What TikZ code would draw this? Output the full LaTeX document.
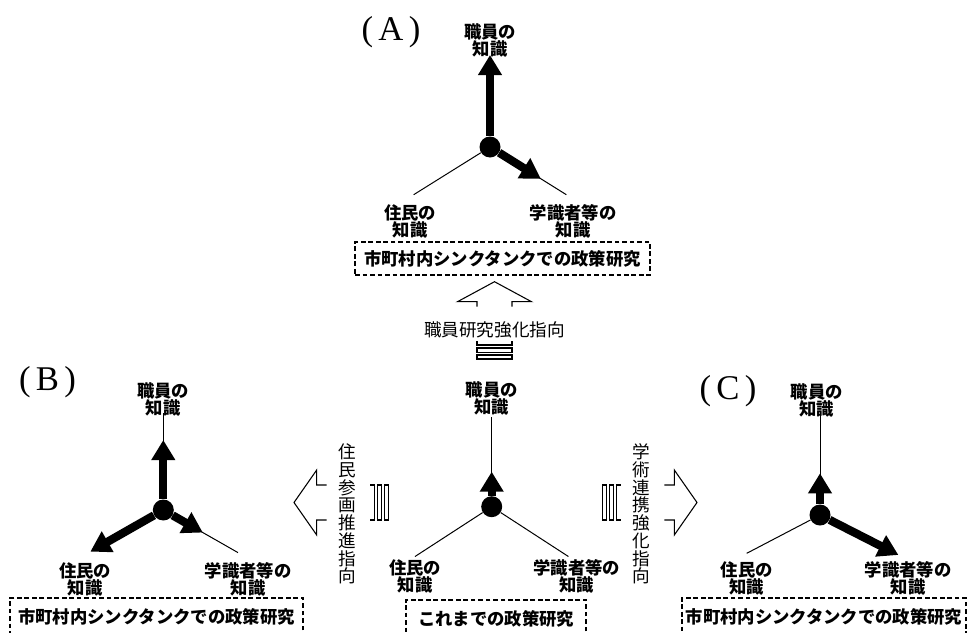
\documentclass[tikz,border=0pt]{standalone}
\usepackage{fontspec}
\setmainfont{Liberation Serif}
\newfontfamily\jpfont{Noto Sans CJK JP}
\usetikzlibrary{arrows.meta}

% striped block arrow: tail, angle, gap end, head base, tip, head half width
\newcommand{\stripearrow}[6]{%
  \begin{scope}[shift={#1}, rotate=#2]
    \draw[outline] (0,-17.5) rectangle (4,17.5) (6.5,-17.5) rectangle (11,17.5);
    \draw[outline] (18,-17.5) -- (14,-17.5) -- (14,17.5) -- (18,17.5);
    \draw[outline] (#3,-17.5) -- (#4,-17.5) -- (#4,-#6) -- (#5,0) -- (#4,#6) -- (#4,17.5) -- (#3,17.5);
  \end{scope}}

\begin{document}
\begin{tikzpicture}[x=0.75pt, y=-0.75pt,
    dot/.style={circle, fill=black, inner sep=0pt, minimum size=15.75pt},
    spoke/.style={line width=0.75pt},
    push/.style={line width=6.2pt, -{Triangle[length=15pt, width=17pt]}},
    outline/.style={line width=0.8pt},
    lab/.style={font=\jpfont\bfseries\fontsize{13}{12.8}\selectfont, align=center, inner sep=0pt},
    frame/.style={draw, line width=1.1pt, dash pattern=on 3.6pt off 2pt, font=\jpfont\bfseries\fontsize{13}{14}\selectfont, inner sep=0pt, minimum height=28.5pt},
    dir/.style={font=\jpfont\fontsize{13.2}{13.3}\selectfont, align=center, inner sep=0pt},
    tag/.style={font=\fontsize{26}{26}\selectfont, inner sep=0pt}
  ]
  \useasboundingbox (0,0) rectangle (974,632);
  \clip (0,0) rectangle (974,632);

  \node[tag] (tagA) at (391,32) {(\kern4pt A\kern4pt)};
  \node[dot] (a) at (490,147) {};
  \path (a) +(-90:92) coordinate (a-u) +(148:90) coordinate (a-l)
    +(32:90) coordinate (a-r) +(32:60) coordinate (a-rt);
  \node[lab] (a-ul) at (490,40) {職員の\\知識};
  \node[lab] (a-ll) at (410,221) {住民の\\知識};
  \node[lab] (a-rl) at (573,221) {学識者等の\\知識};
  \node[frame, minimum width=221pt, minimum height=25pt] (a-box) at (502.5,258.5) {市町村内シンクタンクでの政策研究};
  \draw[spoke] (a) -- (a-l);
  \draw[spoke] (a) -- (a-r);
  \draw[push] (a) -- (a-u);
  \draw[push] (a) -- (a-rt);

  \node[tag] (tagB) at (47.5,382) {(\kern4pt B\kern4pt)};
  \node[dot] (b) at (163.3,510) {};
  \path (b) +(-90:97) coordinate (b-u) +(-90:70) coordinate (b-ut)
    +(150.3:84) coordinate (b-l) +(29.7:86) coordinate (b-r) +(29.7:45.5) coordinate (b-rt);
  \node[lab] (b-ul) at (163.3,399) {職員の\\知識};
  \node[lab] (b-ll) at (85,579) {住民の\\知識};
  \node[lab] (b-rl) at (248,579) {学識者等の\\知識};
  \node[frame, minimum width=219.75pt] (b-box) at (156.5,617) {市町村内シンクタンクでの政策研究};
  \draw[spoke] (b) -- (b-u);
  \draw[spoke] (b) -- (b-r);
  \draw[push] (b) -- (b-ut);
  \draw[push] (b) -- (b-l);
  \draw[push] (b) -- (b-rt);

  \node[dot] (o) at (491.7,506.7) {};
  \path (o) +(-90:90) coordinate (o-u) +(-90:35) coordinate (o-ut)
    +(147:91.5) coordinate (o-l) +(33:91.5) coordinate (o-r);
  \node[lab] (o-ul) at (491.7,398) {職員の\\知識};
  \node[lab] (o-ll) at (415,576.5) {住民の\\知識};
  \node[lab] (o-rl) at (576.7,576.5) {学識者等の\\知識};
  \node[frame, minimum width=135pt] (o-box) at (496,619) {これまでの政策研究};
  \draw[spoke] (o) -- (o-u);
  \draw[spoke] (o) -- (o-l);
  \draw[spoke] (o) -- (o-r);
  \draw[push] (o) -- (o-ut);

  \node[tag] (tagC) at (728,391.5) {(\kern4pt C\kern4pt)};
  \node[dot] (c) at (820,515) {};
  \path (c) +(-90:103) coordinate (c-u) +(-90:41.7) coordinate (c-ut)
    +(152.4:82.7) coordinate (c-l) +(27:88) coordinate (c-r);
  \node[lab] (c-ul) at (816.7,400) {職員の\\知識};
  \node[lab] (c-ll) at (746.7,578) {住民の\\知識};
  \node[lab] (c-rl) at (908.3,578) {学識者等の\\知識};
  \node[frame, minimum width=213pt] (c-box) at (824,617) {市町村内シンクタンクでの政策研究};
  \draw[spoke] (c) -- (c-u);
  \draw[spoke] (c) -- (c-l);
  \draw[push] (c) -- (c-ut);
  \draw[push] (c) -- (c-r);

  \stripearrow{(494.5,359)}{90}{52.3}{57.3}{77.3}{37}
  \node[dir] (up-dir) at (494.5,330) {職員研究強化指向};
  \stripearrow{(388.3,502.5)}{180}{61.6}{71.6}{94.3}{32.5}
  \node[dir] (left-dir) at (347.5,514) {住\\民\\参\\画\\推\\進\\指\\向};
  \stripearrow{(602.7,502.5)}{0}{61.6}{71.6}{94.3}{32.5}
  \node[dir] (right-dir) at (641,514) {学\\術\\連\\携\\強\\化\\指\\向};
\end{tikzpicture}
\end{document}
